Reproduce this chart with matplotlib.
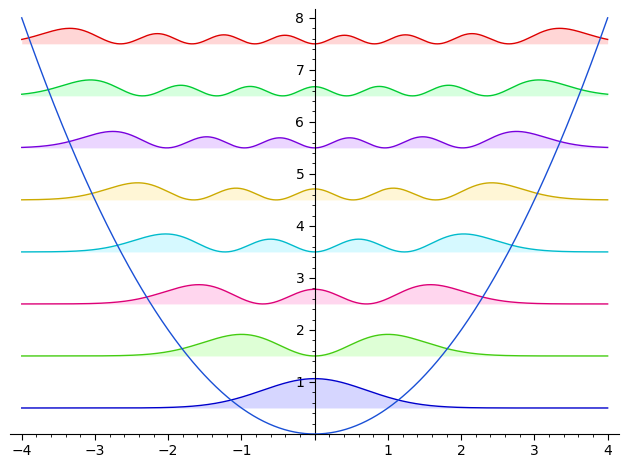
import numpy as np
import matplotlib.pyplot as plt
from matplotlib.ticker import MultipleLocator, FuncFormatter
from math import factorial, pi, sqrt

# quantum harmonic oscillator: levels n, energies n + 1/2, potential x^2/2
levels = [0, 1, 2, 3, 4, 5, 6, 7]
energies = [0.5, 1.5, 2.5, 3.5, 4.5, 5.5, 6.5, 7.5]
line_colors = ['#0000cc', '#44cc11', '#dd0077', '#00bbcc',
               '#ccaa00', '#7700dd', '#00cc33', '#dd0000']
fill_colors = ['#0000ff', '#33ff00', '#ff0099', '#00ddff',
               '#ffcc00', '#8800ff', '#00ff33', '#ff0000']
x_range = (-4, 4)

x = np.linspace(x_range[0], x_range[1], 800)


def density(n, x):
    c = np.zeros(n + 1)
    c[n] = 1
    h = np.polynomial.hermite.hermval(x, c)
    norm = 1.0 / sqrt(2**n * factorial(n) * sqrt(pi))
    return (norm * h * np.exp(-x**2 / 2))**2


fig = plt.figure(figsize=(6.29, 4.68), dpi=100)
ax = fig.add_axes([10 / 629, 34 / 468, 609 / 629, 425 / 468])

for n, e, lc, fc in zip(levels, energies, line_colors, fill_colors):
    y = density(n, x) + e
    ax.fill_between(x, e, y, color=fc, alpha=0.16, linewidth=0)
    ax.plot(x, y, color=lc, linewidth=1.0)

ax.plot(x, x**2 / 2, color='#1a50d6', linewidth=1.0, zorder=5)

ax.set_xlim(-4.16, 4.155)
ax.set_ylim(0, 8.17)

ax.spines['left'].set_position(('data', 0))
ax.spines['bottom'].set_position(('data', 0))
ax.spines['right'].set_visible(False)
ax.spines['top'].set_visible(False)

ax.xaxis.set_major_locator(MultipleLocator(1))
ax.xaxis.set_minor_locator(MultipleLocator(0.2))
ax.yaxis.set_major_locator(MultipleLocator(1))
ax.yaxis.set_minor_locator(MultipleLocator(0.2))

fmt = FuncFormatter(lambda v, p: '' if abs(v) < 1e-9 else '%g' % v if v >= 0 else '\u2212%g' % -v)
ax.xaxis.set_major_formatter(fmt)
ax.yaxis.set_major_formatter(fmt)
ax.tick_params(which='major', direction='out', length=4, width=0.8, labelsize=10)
ax.tick_params(which='minor', direction='out', length=2.5, width=0.6)

fig.savefig('out.png', dpi=100, facecolor='white')
